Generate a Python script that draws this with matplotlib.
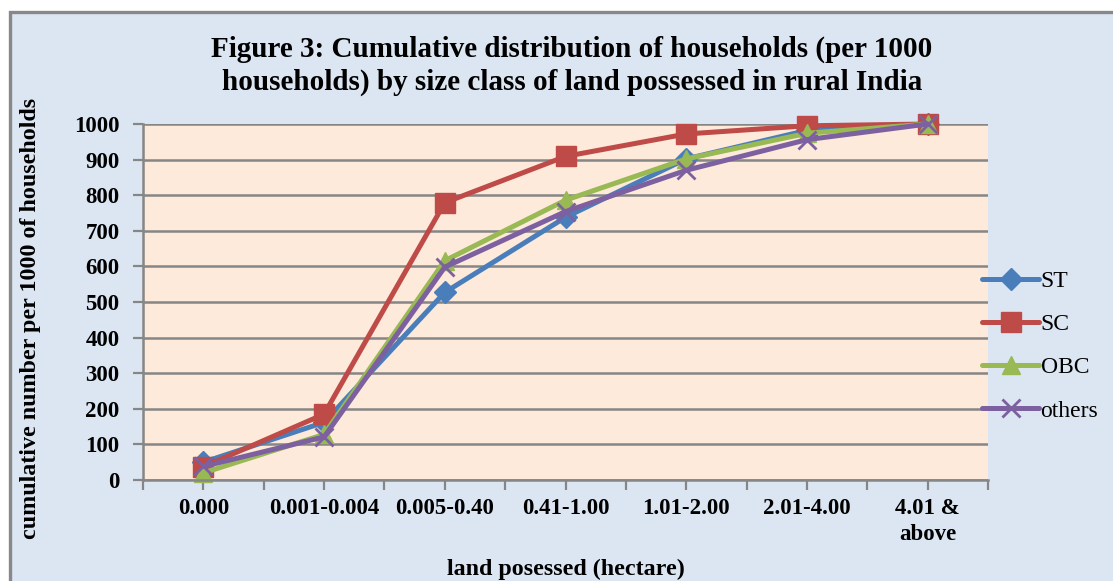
"""
Figure 3: cumulative distribution of households by land size class
"""
import numpy as np
import matplotlib.pyplot as plt
from matplotlib.patches import Rectangle

# kategorie wielkosci gospodarstw
categories = ['0.000', '0.001-0.004', '0.005-0.40', '0.41-1.00',
              '1.01-2.00', '2.01-4.00', '4.01 &\nabove']

st = [50, 162, 527, 738, 902, 982, 1000]
sc = [37, 185, 779, 909, 972, 995, 1000]
obc = [20, 128, 616, 786, 902, 974, 1000]
others = [38, 121, 598, 754, 870, 956, 1000]

series = [
    ('ST', st, '#4A7EBB', 'D', 11),
    ('SC', sc, '#BE4B48', 's', 14),
    ('OBC', obc, '#98B954', '^', 13),
    ('others', others, '#7D60A0', 'x', 13),
]

W, H = 1113, 581
plt.rcParams['font.family'] = ['Liberation Serif', 'DejaVu Serif']

fig = plt.figure(figsize=(W / 100, H / 100), dpi=100, facecolor='white')

# zewnetrzna ramka z tlem
fig.patches.append(Rectangle((9.5 / W, -0.1), 1.2, 1 - 12.5 / H + 0.1,
                             transform=fig.transFigure, facecolor='#DCE6F2',
                             edgecolor='#888888', lw=2.4, zorder=-10))

ax = fig.add_axes([143 / W, 1 - 480 / H, 845 / W, 356 / H])
ax.set_facecolor('#FDEADA')

x = np.arange(len(categories))
for name, vals, color, marker, ms in series:
    ax.plot(x, vals, color=color, lw=3.6, marker=marker, markersize=ms,
            markeredgewidth=2 if marker == 'x' else 1, markeredgecolor=color,
            label=name, solid_capstyle='round', clip_on=False)

ax.set_xlim(-0.5, len(categories) - 0.5)
ax.set_ylim(0, 1000)
ax.set_yticks(range(0, 1001, 100))
ax.set_xticks(x)
ax.set_xticklabels(categories, fontsize=16.5, fontweight='bold',
                   linespacing=1.3)
ax.set_xticks(np.arange(-0.5, len(categories), 1), minor=True)
for lab in ax.get_yticklabels():
    lab.set_fontsize(16.5)
    lab.set_fontweight('bold')

ax.tick_params(axis='both', which='both', length=7, width=1.6,
               color='#868686', direction='out')
ax.tick_params(axis='x', pad=6)
ax.tick_params(axis='y', pad=10)
ax.grid(axis='y', color='#868686', lw=1.8)
ax.set_axisbelow(True)

for side in ['top', 'right']:
    ax.spines[side].set_visible(False)
for side in ['left', 'bottom']:
    ax.spines[side].set_color('#868686')
    ax.spines[side].set_linewidth(1.8)

fig.text(572 / W, 1 - 66 / H,
         'Figure 3: Cumulative distribution of households (per 1000\n'
         'households) by size class of land possessed in rural India',
         ha='center', va='center', fontsize=21, fontweight='bold',
         linespacing=1.25)

fig.text(31 / W, 1 - 318 / H, 'cumulative number per 1000 of households',
         rotation=90, ha='center', va='center', fontsize=17.3,
         fontweight='bold')
fig.text(566 / W, 1 - 569 / H, 'land posessed (hectare)', ha='center',
         va='center', fontsize=17.3, fontweight='bold')

fig.legend(loc='center left', bbox_to_anchor=(973 / W, 1 - 346 / H),
           frameon=False, fontsize=17, handlelength=2.4,
           handletextpad=0.06, labelspacing=0.92, borderaxespad=0)

fig.savefig('out.png', dpi=100, facecolor='white')
